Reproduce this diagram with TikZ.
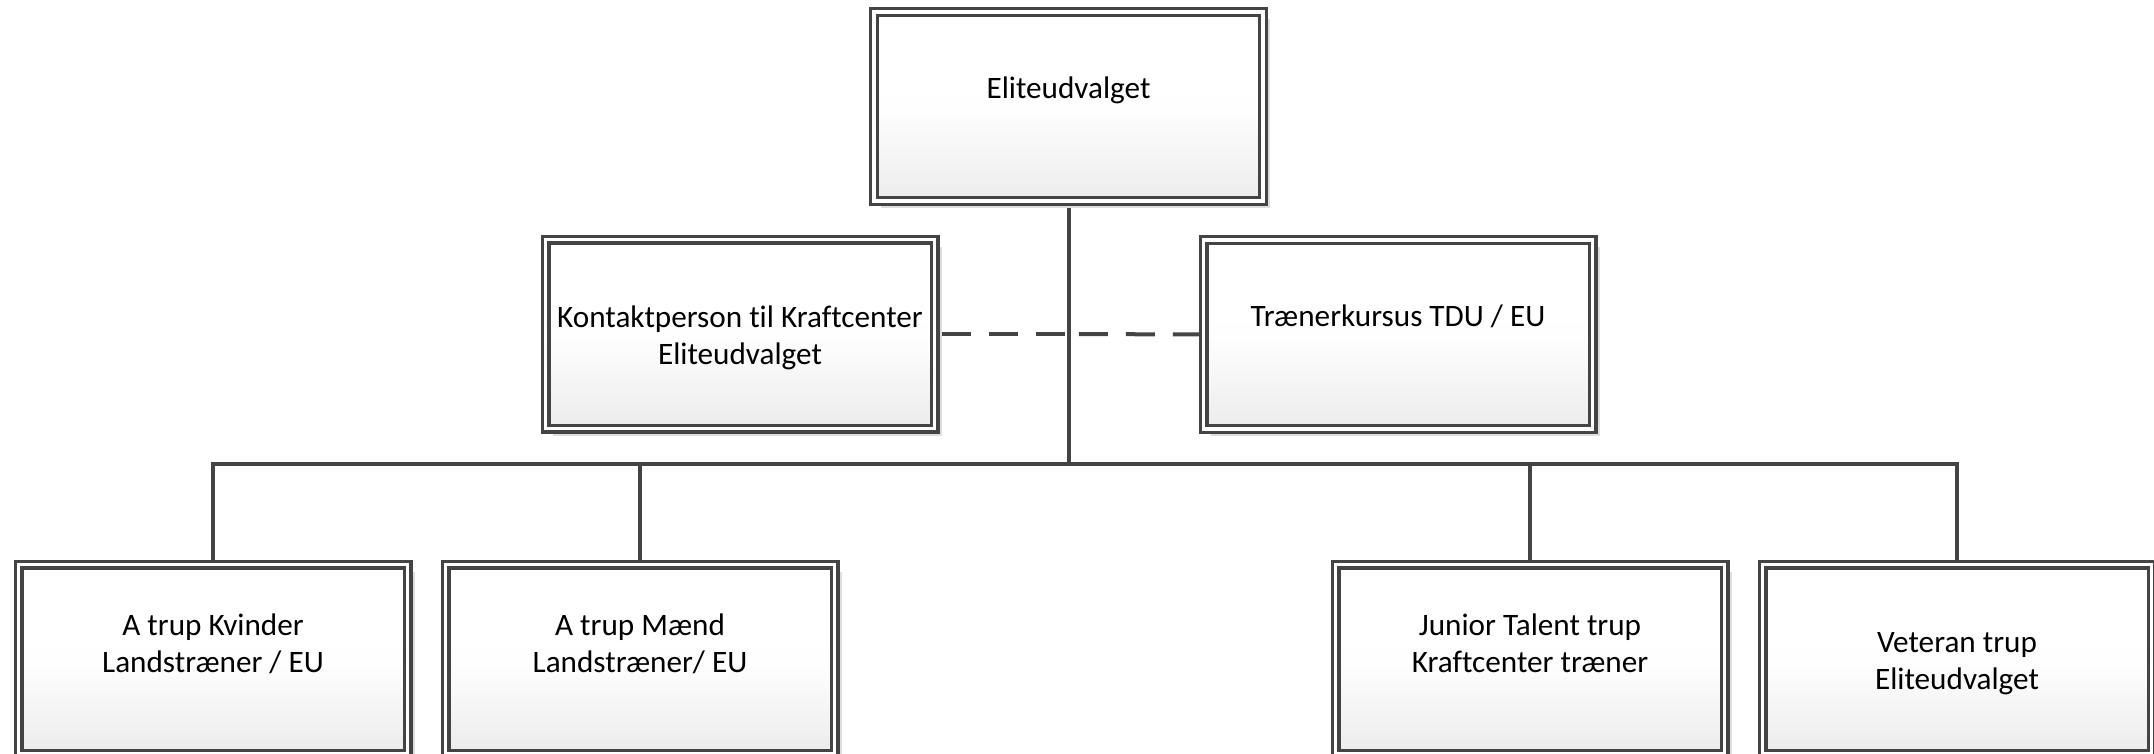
\documentclass[tikz,border=0pt]{standalone}
\usepackage{fontspec}
\setmainfont{Carlito}[Ligatures=NoCommon]
\usetikzlibrary{shadows,backgrounds}
\definecolor{linec}{RGB}{68,68,68}
\definecolor{shadowc}{RGB}{222,222,222}
\definecolor{boxbot}{RGB}{236,236,236}
\tikzset{
  orgbox/.style={rectangle, draw=linec, line width=3.2pt, double=white, double distance=3.6pt,
    minimum width=389pt, minimum height=189pt, inner sep=0pt,
    top color=white, bottom color=boxbot, middle color=white!97!boxbot,
    drop shadow={shadow xshift=7pt, shadow yshift=-7pt, fill=shadowc, opacity=1}},
  lbl/.style={inner sep=0pt, align=center, text=black, text height=20pt, text depth=6pt,
    font=\fontsize{31.2}{37}\selectfont},
  conn/.style={draw=linec, line width=3.6pt},
  dashconn/.style={draw=linec, line width=4pt, dash pattern=on 29pt off 18pt}
}
\begin{document}
\begin{tikzpicture}[x=1pt,y=-1pt]
\useasboundingbox (0,0) rectangle (2154,754);
% boxes
\node[orgbox] (top) at (1068.5,106.5) {};
\node[orgbox] (kontakt) at (740,334) {};
\node[orgbox] (traener) at (1398,334.5) {};
\node[orgbox] (kv) at (213,659) {};
\node[orgbox] (ma) at (640,659) {};
\node[orgbox] (ju) at (1530,659) {};
\node[orgbox] (ve) at (1957,659) {};
% labels
\node[lbl] (ltop) at (1068.5,92) {Eliteudvalget};
\node[lbl] (lkontakt) at (740,357.5) {Kontaktperson til Kraftcenter\\Eliteudvalget};
\node[lbl] (ltraener) at (1398,319) {Trænerkursus TDU / EU};
\node[lbl] (lkv) at (213,665.5) {A trup Kvinder\\Landstræner / EU};
\node[lbl] (lma) at (640,665.5) {A trup Mænd\\Landstræner/ EU};
\node[lbl] (lju) at (1530,665.5) {Junior Talent trup\\Kraftcenter træner};
\node[lbl] (lve) at (1957,682.5) {Veteran trup\\Eliteudvalget};
% junction coordinates
\coordinate (jbus) at (1069,464);
\coordinate (jdash) at (1069,334);
\coordinate (b1) at (213,464);
\coordinate (b2) at (640,464);
\coordinate (b3) at (1530,464);
\coordinate (b4) at (1957,464);
\begin{scope}[on background layer]
\draw[conn] (top.south -| jbus) -- (jbus);
\draw[conn, line cap=rect] (b1) -- (b4);
\draw[conn] (b1) -- (kv.north);
\draw[conn] (b2) -- (ma.north);
\draw[conn] (b3) -- (ju.north);
\draw[conn] (b4) -- (ve.north);
\end{scope}
\draw[dashconn, shorten <=5.5pt] (kontakt.east) -- (jdash);
\draw[dashconn] (traener.west) -- (jdash);
\end{tikzpicture}
\end{document}
